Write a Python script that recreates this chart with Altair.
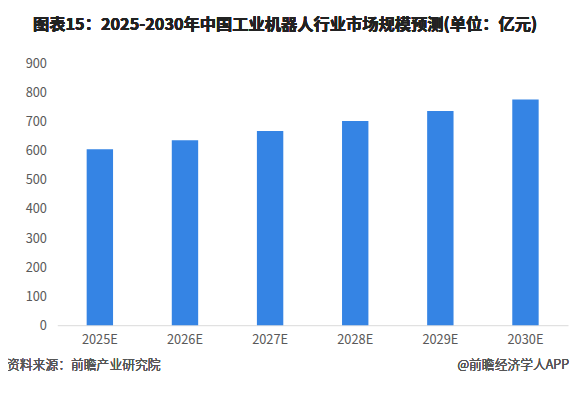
import altair as alt
import pandas as pd

years = ["2025E", "2026E", "2027E", "2028E", "2029E", "2030E"]
values = [606, 637, 669, 703, 738, 777]
y_ticks = [0, 100, 200, 300, 400, 500, 600, 700, 800, 900]

title_text = "图表15：2025-2030年中国工业机器人行业市场规模预测(单位：亿元)"
source_text = "资料来源：前瞻产业研究院"
brand_text = "@前瞻经济学人APP"

FONT = "Noto Sans CJK SC"

df = pd.DataFrame({"year": years, "value": values})

W, H = 518, 265

bars = alt.Chart(df).mark_bar(color="#3584E4").encode(
    x=alt.X("year:N", sort=years, title=None,
            scale=alt.Scale(paddingInner=0.69, paddingOuter=0.345),
            axis=alt.Axis(labelAngle=0, domainColor="#d9d9d9", domainWidth=1,
                          ticks=False, labelColor="#595959", labelFontSize=13,
                          labelFont=FONT, labelPadding=9)),
    y=alt.Y("value:Q", title=None,
            scale=alt.Scale(domain=[0, 900], nice=False),
            axis=alt.Axis(values=y_ticks, domain=False, ticks=False, grid=False,
                          labelColor="#595959", labelFontSize=13, labelFont=FONT,
                          labelPadding=11)),
)

title = alt.Chart(df).mark_text(
    text=title_text, font=FONT, fontSize=16.5, fontWeight="bold",
    color="#222222", align="center", baseline="middle"
).encode(x=alt.value(231), y=alt.value(-39))

source = alt.Chart(df).mark_text(
    text=source_text, font=FONT, fontSize=13, fontWeight=300, color="#555555",
    align="left", baseline="middle"
).encode(x=alt.value(-51), y=alt.value(305))

brand = alt.Chart(df).mark_text(
    text=brand_text, font=FONT, fontSize=13, fontWeight=300, color="#555555",
    align="right", baseline="middle"
).encode(x=alt.value(519), y=alt.value(305))

chart = alt.layer(bars, title, source, brand).properties(
    width=W, height=H,
    autosize=alt.AutoSizeParams(type="none"),
    padding={"left": 50, "top": 54, "right": 2, "bottom": 60},
    background="white",
).configure_view(stroke=None)

chart.save("out.html", embed_options={"renderer": "svg", "actions": False})
